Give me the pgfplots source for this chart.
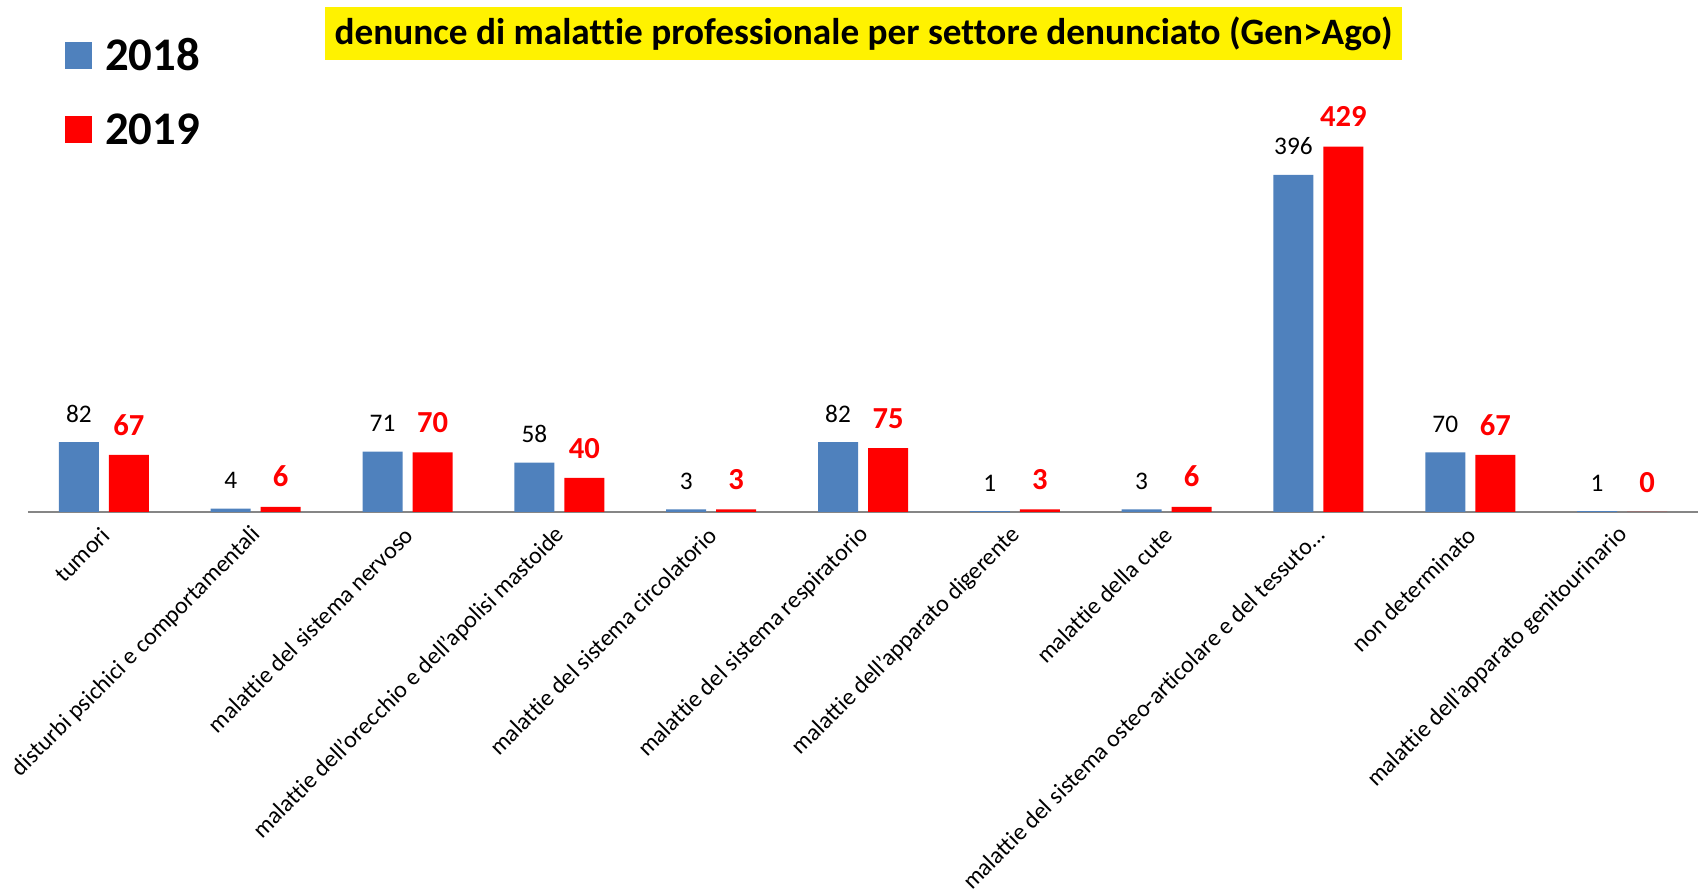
\documentclass[border=0pt]{standalone}
\usepackage{fontspec}
\setmainfont{Carlito}[Ligatures=CommonOff]
\usepackage{pgfplots}
\pgfplotsset{compat=1.18}
\definecolor{blu18}{HTML}{4F81BD}
\definecolor{red19}{HTML}{FF0000}
\definecolor{axisgray}{HTML}{868686}

\begin{document}
\begin{tikzpicture}[x=1mm,y=1mm]
\useasboundingbox (0,0) rectangle (170,89);
\begin{axis}[
  at={(2.8mm,37.8mm)}, anchor=south west,
  scale only axis, width=167mm, height=38.32mm,
  xmin=-0.5, xmax=10.5, ymin=0, ymax=450,
  ybar=1mm, bar width=4mm,
  axis x line*=bottom, hide y axis,
  x axis line style={draw=axisgray, line width=0.2mm},
  xtick=data, major tick length=0pt,
  xticklabels={tumori, disturbi psichici e comportamentali, malattie del sistema nervoso,
    malattie dell'orecchio e dell'apolisi mastoide, malattie del sistema circolatorio,
    malattie del sistema respiratorio, malattie dell'apparato digerente, malattie della cute,
    malattie del sistema osteo-articolare e del tessuto\dots, non determinato,
    malattie dell'apparato genitourinario},
  xticklabel style={yshift=-1.9mm, xshift=0.2mm, rotate=45, anchor=east, inner sep=0pt,
    font=\fontsize{6.8}{8}\selectfont},
  clip=false,
  nodes near coords,
  /pgf/number format/assume math mode=true,
  legend style={at={(0.02216,1.2317)}, anchor=north west, draw=none, fill=none,
    inner sep=0pt, outer sep=0pt, row sep=4.4mm,
    font=\bfseries\fontsize{13.3}{14}\selectfont,
    nodes={inner sep=0pt, text height=3mm, text depth=0mm},
    /tikz/every odd column/.append style={column sep=1.3mm}},
  legend image code/.code={\fill[#1] (0mm,-1.35mm) rectangle (2.7mm,1.35mm);},
  legend cell align=left,
]
\addplot[fill=blu18, draw=none,
  every node near coord/.append style={black, anchor=south, inner sep=0pt, yshift=1.9mm,
    font=\fontsize{7.2}{8}\selectfont}]
  coordinates {(0,82) (1,4) (2,71) (3,58) (4,3) (5,82) (6,1) (7,3) (8,396) (9,70) (10,1)};
\addlegendentry{2018}
\addplot[fill=red19, draw=none,
  every node near coord/.append style={red19, anchor=south, inner sep=0pt, yshift=1.9mm,
    font=\bfseries\fontsize{8.7}{9}\selectfont}]
  coordinates {(0,67) (1,6) (2,70) (3,40) (4,3) (5,75) (6,3) (7,6) (8,429) (9,67) (10,0)};
\addlegendentry{2019}
\end{axis}
\node[fill=yellow, inner sep=0pt, minimum width=107.7mm, minimum height=5.3mm,
  font=\bfseries\fontsize{10.6}{11}\selectfont] at (86.35,85.6)
  {denunce di malattie professionale per settore denunciato (Gen>Ago)};
\end{tikzpicture}
\end{document}
